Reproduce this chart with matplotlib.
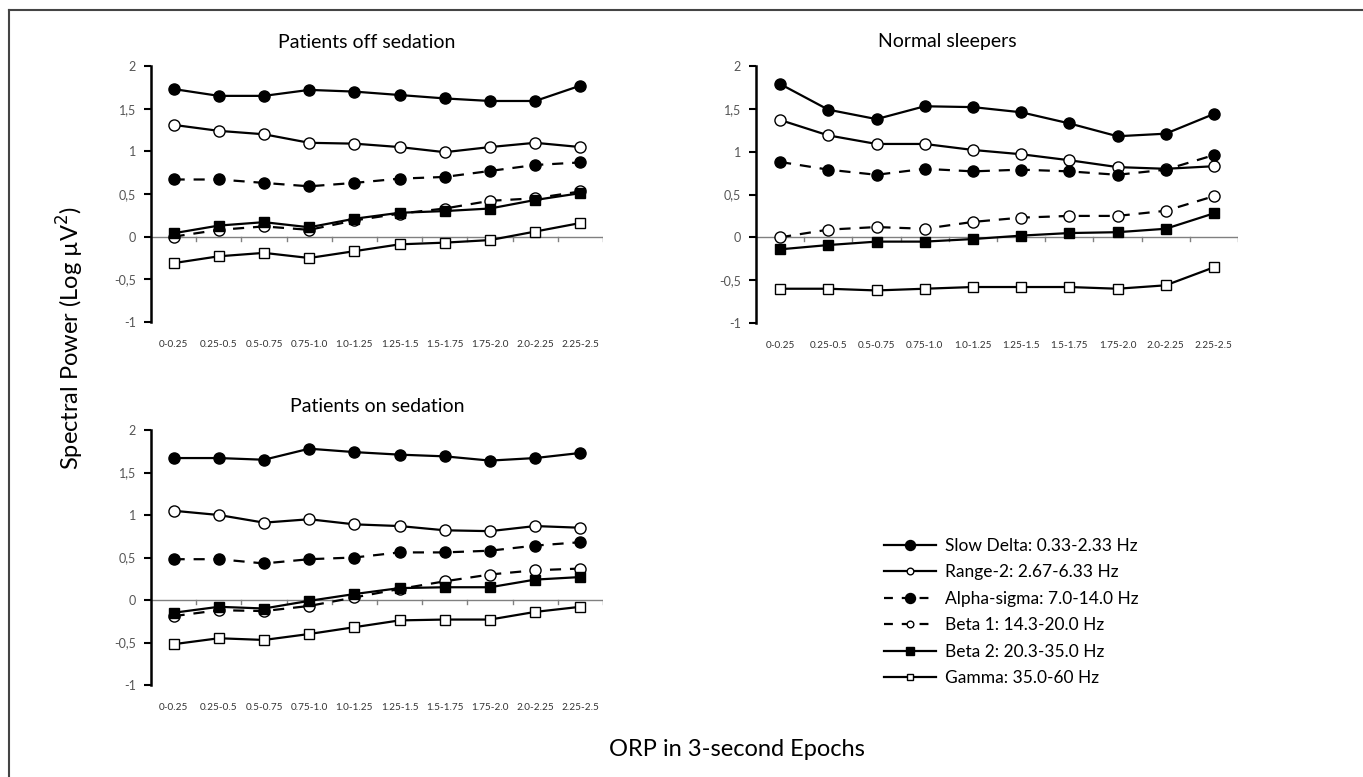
import matplotlib
matplotlib.use('Agg')
import matplotlib.pyplot as plt
from matplotlib.lines import Line2D

plt.rcParams['font.family'] = ['Lato', 'DejaVu Sans']

# =============================================================
# DATA
# =============================================================
categories = ['0-0.25', '0.25-0.5', '0.5-0.75', '0.75-1.0', '1.0-1.25',
              '1.25-1.5', '1.5-1.75', '1.75-2.0', '2.0-2.25', '2.25-2.5']

band_names = ['Slow Delta: 0.33-2.33 Hz', 'Range-2: 2.67-6.33 Hz',
              'Alpha-sigma: 7.0-14.0 Hz', 'Beta 1: 14.3-20.0 Hz',
              'Beta 2: 20.3-35.0 Hz', 'Gamma: 35.0-60 Hz']

# Patients off sedation
off_slow_delta = [1.73, 1.65, 1.65, 1.72, 1.70, 1.66, 1.62, 1.59, 1.59, 1.77]
off_range2     = [1.31, 1.24, 1.20, 1.10, 1.09, 1.05, 0.99, 1.05, 1.10, 1.05]
off_alpha      = [0.67, 0.67, 0.63, 0.59, 0.63, 0.68, 0.70, 0.77, 0.84, 0.87]
off_beta1      = [0.00, 0.08, 0.12, 0.08, 0.19, 0.27, 0.33, 0.42, 0.45, 0.53]
off_beta2      = [0.04, 0.13, 0.17, 0.11, 0.21, 0.28, 0.30, 0.33, 0.43, 0.51]
off_gamma      = [-0.31, -0.23, -0.19, -0.25, -0.17, -0.09, -0.07, -0.04, 0.06, 0.16]

# Normal sleepers
nrm_slow_delta = [1.79, 1.49, 1.38, 1.53, 1.52, 1.46, 1.33, 1.18, 1.21, 1.44]
nrm_range2     = [1.37, 1.19, 1.09, 1.09, 1.02, 0.97, 0.90, 0.82, 0.80, 0.83]
nrm_alpha      = [0.88, 0.79, 0.73, 0.80, 0.77, 0.79, 0.77, 0.73, 0.79, 0.96]
nrm_beta1      = [0.00, 0.09, 0.12, 0.10, 0.18, 0.23, 0.25, 0.25, 0.31, 0.48]
nrm_beta2      = [-0.14, -0.09, -0.05, -0.05, -0.02, 0.02, 0.05, 0.06, 0.10, 0.28]
nrm_gamma      = [-0.60, -0.60, -0.62, -0.60, -0.58, -0.58, -0.58, -0.60, -0.56, -0.35]

# Patients on sedation
on_slow_delta = [1.67, 1.67, 1.65, 1.78, 1.74, 1.71, 1.69, 1.64, 1.67, 1.73]
on_range2     = [1.05, 1.00, 0.91, 0.95, 0.89, 0.87, 0.82, 0.81, 0.87, 0.85]
on_alpha      = [0.48, 0.48, 0.43, 0.48, 0.50, 0.56, 0.56, 0.58, 0.64, 0.68]
on_beta1      = [-0.19, -0.12, -0.13, -0.07, 0.03, 0.13, 0.22, 0.30, 0.35, 0.37]
on_beta2      = [-0.15, -0.08, -0.10, -0.01, 0.07, 0.14, 0.15, 0.15, 0.24, 0.27]
on_gamma      = [-0.52, -0.45, -0.47, -0.40, -0.32, -0.24, -0.23, -0.23, -0.14, -0.08]

y_ticks = [-1, -0.5, 0, 0.5, 1, 1.5, 2]
y_tick_labels = ['-1', '-0,5', '0', '0,5', '1', '1,5', '2']

# line styles per band: (linestyle, marker, facecolor, markersize)
styles = [
    ('-',  'o', 'black', 8),
    ('-',  'o', 'white', 8),
    ('--', 'o', 'black', 8),
    ('--', 'o', 'white', 8),
    ('-',  's', 'black', 7),
    ('-',  's', 'white', 7),
]

# =============================================================
# PLOT
# =============================================================
W, H = 1363, 777
fig = plt.figure(figsize=(W / 100, H / 100), dpi=100)


def ax_rect(x0, x1, ytop, ybot):
    return [x0 / W, 1 - ybot / H, (x1 - x0) / W, (ybot - ytop) / H]


def draw_panel(rect, series):
    ax = fig.add_axes(rect)
    x = [i + 0.5 for i in range(len(categories))]
    for vals, (ls, mk, fc, ms) in zip(series, styles):
        ax.plot(x, vals, linestyle=ls, color='black', linewidth=1.6,
                marker=mk, markersize=ms, markerfacecolor=fc,
                markeredgecolor='black', markeredgewidth=1.0,
                dashes=(5, 4) if ls == '--' else (None, None), zorder=3)
    ax.set_xlim(0, len(categories))
    ax.set_ylim(-1, 2)
    ax.set_yticks(y_ticks)
    ax.set_yticklabels(y_tick_labels, color='#555555', fontsize=9)
    ax.tick_params(axis='y', direction='out', length=5, width=1.5, color='black', pad=6)
    for s in ['top', 'right', 'bottom']:
        ax.spines[s].set_visible(False)
    ax.spines['left'].set_linewidth(1.8)
    # category axis drawn at zero, labels below the plot
    ax.axhline(0, color='#808080', linewidth=1.0, zorder=1)
    for i in range(1, len(categories) + 1):
        ax.plot([i, i], [0, -0.045], color='#808080', linewidth=1.0, zorder=1)
    ax.set_xticks(x)
    ax.set_xticklabels(categories, fontsize=7.2, color='#333333')
    ax.tick_params(axis='x', length=0, pad=13)
    ax.patch.set_alpha(0)
    return ax


draw_panel(ax_rect(151, 603, 66, 322),
           [off_slow_delta, off_range2, off_alpha, off_beta1, off_beta2, off_gamma])
draw_panel(ax_rect(756, 1238, 66, 323),
           [nrm_slow_delta, nrm_range2, nrm_alpha, nrm_beta1, nrm_beta2, nrm_gamma])
draw_panel(ax_rect(151, 603, 430, 685),
           [on_slow_delta, on_range2, on_alpha, on_beta1, on_beta2, on_gamma])

# panel titles
fig.text(367 / W, 1 - 42 / H, 'Patients off sedation', ha='center', va='center', fontsize=14)
fig.text(947 / W, 1 - 42 / H, 'Normal sleepers', ha='center', va='center', fontsize=14)
fig.text(377 / W, 1 - 407 / H, 'Patients on sedation', ha='center', va='center', fontsize=14)

# shared axis labels
fig.text(70 / W, 1 - 338 / H, 'Spectral Power (Log \u00b5V$^2$)', rotation=90,
         ha='center', va='center', fontsize=17)
fig.text(737 / W, 1 - 750 / H, 'ORP in 3-second Epochs', ha='center', va='center', fontsize=17)

# legend
handles = []
for (ls, mk, fc, ms) in styles:
    handles.append(Line2D([0], [0], linestyle=ls, color='black', linewidth=1.6,
                          marker=mk, markersize=ms * 0.9 if fc == 'black' else ms * 0.6,
                          markerfacecolor=fc, markeredgecolor='black',
                          dashes=(4, 4) if ls == '--' else (None, None)))
fig.legend(handles, band_names, loc='upper left',
           bbox_to_anchor=(884 / W, 1 - 538 / H), frameon=False,
           fontsize=12.5, handlelength=3.0, handletextpad=0.5, labelspacing=0.6,
           borderaxespad=0, borderpad=0)

# partial frame (top and left edges)
fig.add_artist(Line2D([9 / W, 9 / W], [0, 1 - 10 / H], color='#444444', linewidth=1.5))
fig.add_artist(Line2D([9 / W, 1], [1 - 10 / H, 1 - 10 / H], color='#444444', linewidth=1.5))

plt.savefig('out.png', dpi=100)
plt.close()
